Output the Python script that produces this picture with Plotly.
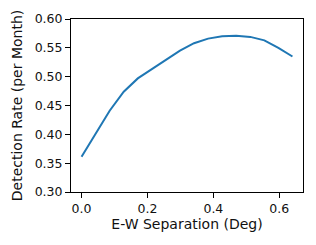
import plotly.graph_objects as go

separation_deg = [0.0, 0.0427, 0.0853, 0.128, 0.1707, 0.2133, 0.256, 0.2987,
                  0.3413, 0.384, 0.4267, 0.4693, 0.512, 0.5547, 0.5973, 0.64]
detection_rate = [0.361, 0.401, 0.441, 0.474, 0.497, 0.513, 0.529, 0.545,
                  0.558, 0.566, 0.570, 0.571, 0.569, 0.563, 0.550, 0.535]
x_ticks = [0.0, 0.2, 0.4, 0.6]
y_ticks = [0.30, 0.35, 0.40, 0.45, 0.50, 0.55, 0.60]

fig = go.Figure(go.Scatter(x=separation_deg, y=detection_rate, mode="lines",
                           line=dict(color="#1f77b4", width=2)))

axis_common = dict(showline=True, mirror=True, linecolor="black", linewidth=1,
                   ticks="outside", ticklen=5, tickwidth=1, tickcolor="black",
                   showgrid=False, zeroline=False, automargin=False,
                   tickfont=dict(family="DejaVu Sans", size=12.5, color="#111"))

fig.update_layout(
    width=316, height=245,
    margin=dict(l=71, r=13, t=19, b=53),
    plot_bgcolor="white", paper_bgcolor="white",
    showlegend=False,
    xaxis=dict(range=[-0.032, 0.672], tickvals=x_ticks, tickformat=".1f",
               title=dict(text="E-W Separation (Deg)", standoff=4,
                          font=dict(family="DejaVu Sans", size=14, color="#111")),
               **axis_common),
    yaxis=dict(range=[0.30, 0.60], tickvals=y_ticks, tickformat=".2f",
               title=dict(text="Detection Rate (per Month)", standoff=8,
                          font=dict(family="DejaVu Sans", size=14, color="#111")),
               **axis_common),
)

fig.write_html("out.html", config={"displayModeBar": False},
               post_script="document.body.style.margin='0';document.body.style.overflow='hidden';")
